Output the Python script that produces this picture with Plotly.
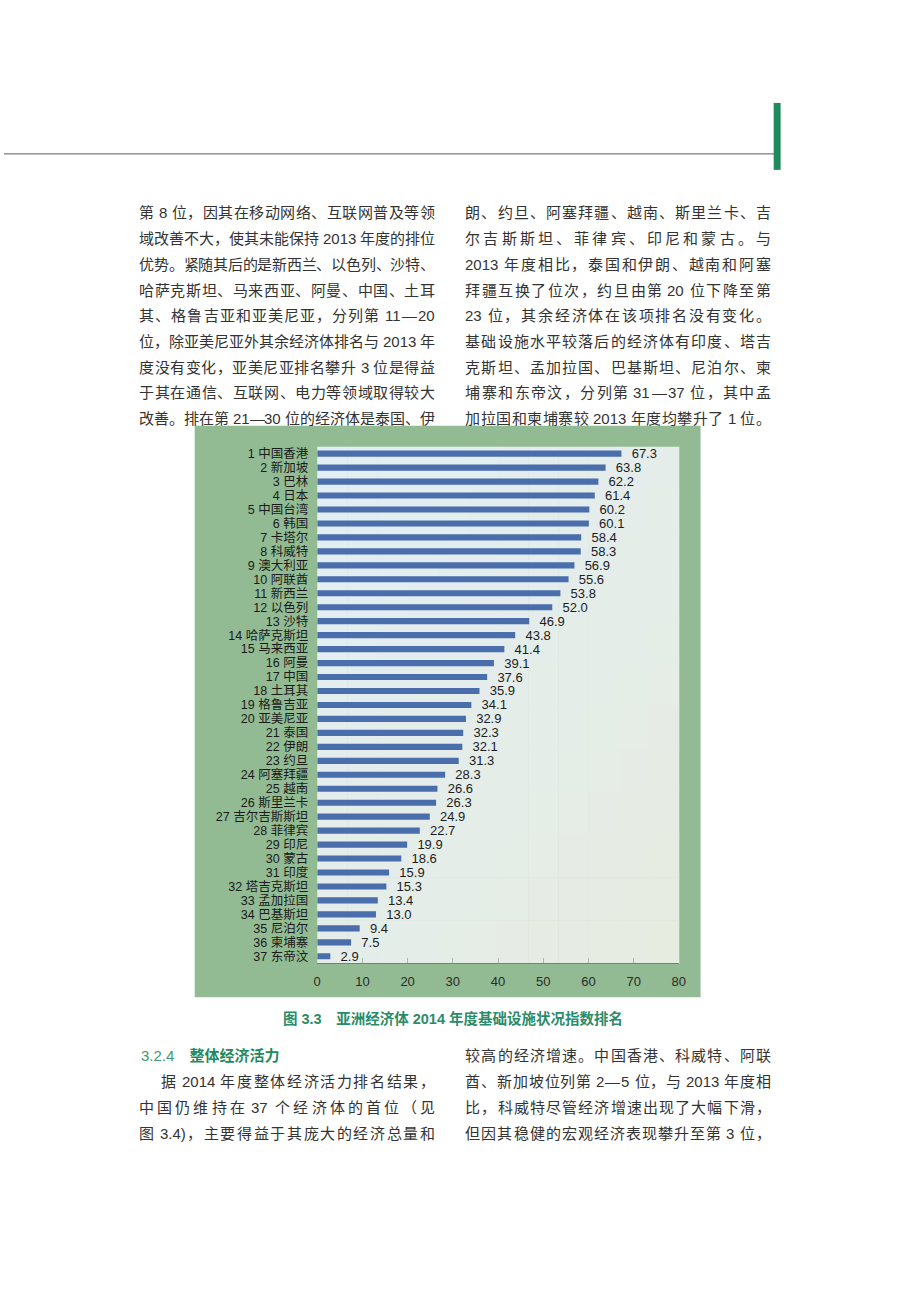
import re
import plotly.graph_objects as go

# ---------------- data ----------------
ranks = list(range(1, 38))
names = ["中国香港", "新加坡", "巴林", "日本", "中国台湾", "韩国", "卡塔尔", "科威特",
         "澳大利亚", "阿联酋", "新西兰", "以色列", "沙特", "哈萨克斯坦", "马来西亚", "阿曼",
         "中国", "土耳其", "格鲁吉亚", "亚美尼亚", "泰国", "伊朗", "约旦", "阿塞拜疆",
         "越南", "斯里兰卡", "吉尔吉斯斯坦", "菲律宾", "印尼", "蒙古", "印度", "塔吉克斯坦",
         "孟加拉国", "巴基斯坦", "尼泊尔", "柬埔寨", "东帝汶"]
values = [67.3, 63.8, 62.2, 61.4, 60.2, 60.1, 58.4, 58.3, 56.9, 55.6, 53.8, 52.0, 46.9,
          43.8, 41.4, 39.1, 37.6, 35.9, 34.1, 32.9, 32.3, 32.1, 31.3, 28.3, 26.6, 26.3,
          24.9, 22.7, 19.9, 18.6, 15.9, 15.3, 13.4, 13.0, 9.4, 7.5, 2.9]
x_ticks = [0, 10, 20, 30, 40, 50, 60, 70, 80]
labels = [f"{r} {n}" for r, n in zip(ranks, names)]

caption = "图 3.3　亚洲经济体 2014 年度基础设施状况指数排名"

top_left = [
    "第 8 位，因其在移动网络、互联网普及等领",
    "域改善不大，使其未能保持 2013 年度的排位",
    "优势。紧随其后的是新西兰、以色列、沙特、",
    "哈萨克斯坦、马来西亚、阿曼、中国、土耳",
    "其、格鲁吉亚和亚美尼亚，分列第 11—20",
    "位，除亚美尼亚外其余经济体排名与 2013 年",
    "度没有变化，亚美尼亚排名攀升 3 位是得益",
    "于其在通信、互联网、电力等领域取得较大",
    "改善。排在第 21—30 位的经济体是泰国、伊",
]
top_right = [
    "朗、约旦、阿塞拜疆、越南、斯里兰卡、吉",
    "尔吉斯斯坦、菲律宾、印尼和蒙古。与",
    "2013 年度相比，泰国和伊朗、越南和阿塞",
    "拜疆互换了位次，约旦由第 20 位下降至第",
    "23 位，其余经济体在该项排名没有变化。",
    "基础设施水平较落后的经济体有印度、塔吉",
    "克斯坦、孟加拉国、巴基斯坦、尼泊尔、柬",
    "埔寨和东帝汶，分列第 31—37 位，其中孟",
    "加拉国和柬埔寨较 2013 年度均攀升了 1 位。",
]
bottom_left = [
    "中国仍维持在 37 个经济体的首位（见",
    "图 3.4)，主要得益于其庞大的经济总量和",
]
bottom_left_first = "据 2014 年度整体经济活力排名结果，"
bottom_right = [
    "较高的经济增速。中国香港、科威特、阿联",
    "酋、新加坡位列第 2—5 位，与 2013 年度相",
    "比，科威特尽管经济增速出现了大幅下滑，",
    "但因其稳健的宏观经济表现攀升至第 3 位，",
]

# ---------------- page geometry ----------------
W, H = 920, 1302
def px(x):
    return x / W
def py(y):
    return 1 - y / H

PLOT_L, PLOT_R, PLOT_T, PLOT_B = 317, 683, 446, 963
FRAME = (193, 425, 705, 997)

fig = go.Figure()
fig.add_trace(go.Bar(
    y=labels, x=values, orientation="h", width=0.44,
    marker=dict(color="#4a6dac", line=dict(width=0)),
    texttemplate="\u00a0\u00a0%{x:.1f}", textposition="outside", cliponaxis=False,
    constraintext="none",
    textfont=dict(size=13, color="#1c1c1c", family="Liberation Sans, Arial, sans-serif"),
    hoverinfo="skip",
))

shapes = []
# green frame
shapes.append(dict(type="rect", xref="paper", yref="paper", layer="below",
                   x0=px(FRAME[0]), x1=px(FRAME[2]), y0=py(FRAME[3]), y1=py(FRAME[1]),
                   fillcolor="#93bb93", line=dict(width=0)))
# plot area soft gradient
nx, ny = 12, 12
tl = (226, 238, 243)
br = (231, 236, 225)
for i in range(nx):
    for j in range(ny):
        t = (i / (nx - 1) + j / (ny - 1)) / 2
        c = tuple(round(a + (b - a) * t) for a, b in zip(tl, br))
        x0 = PLOT_L + (PLOT_R - PLOT_L) * i / nx
        x1 = PLOT_L + (PLOT_R - PLOT_L) * (i + 1) / nx
        y0 = PLOT_T + (PLOT_B - PLOT_T) * j / ny
        y1 = PLOT_T + (PLOT_B - PLOT_T) * (j + 1) / ny
        shapes.append(dict(type="rect", xref="paper", yref="paper", layer="below",
                           x0=px(x0), x1=px(x1) + 0.0005, y0=py(y1) - 0.0004, y1=py(y0),
                           fillcolor="rgb(%d,%d,%d)" % c, line=dict(width=0)))
# header rule and green tab
shapes.append(dict(type="line", xref="paper", yref="paper",
                   x0=0, x1=px(780), y0=py(153), y1=py(153),
                   line=dict(color="#5a5a5a", width=1)))
shapes.append(dict(type="rect", xref="paper", yref="paper",
                   x0=px(779), x1=px(786), y0=py(169), y1=py(102),
                   fillcolor="#1f8a5e", line=dict(width=0)))

# ---------------- body text (justified) ----------------
annotations = []
BODY_FONT = "Liberation Sans, Noto Sans CJK SC, sans-serif"
ASCII_W = {".": 0.278, "(": 0.333, ")": 0.333}

def tok_width(tok, fs):
    if re.fullmatch(r"[0-9A-Za-z.()]+", tok):
        return sum(ASCII_W.get(ch, 0.556) for ch in tok) * fs
    return fs

def add_line(text, x0, x1, y, fs=15, color="#333333", justify=True):
    parts = re.findall(r"[0-9A-Za-z.()]+|\s+|[^\s0-9A-Za-z.()]", text)
    toks, gaps = [], []
    pending = 0.0
    for p in parts:
        if p.isspace():
            pending += 0.27 * fs * len(p)
            continue
        if toks:
            gaps.append(pending)
        pending = 0.0
        toks.append(p)
    widths = [tok_width(t, fs) for t in toks]
    natural = sum(widths) + sum(gaps)
    extra = (x1 - x0 - natural) / max(len(gaps), 1) if justify else 0.0
    x = x0
    for k, (t, w) in enumerate(zip(toks, widths)):
        annotations.append(dict(xref="paper", yref="paper", x=px(x + w / 2), y=py(y),
                                xanchor="center", yanchor="middle", showarrow=False,
                                text=t, font=dict(size=fs, color=color, family=BODY_FONT)))
        if k < len(gaps):
            x += w + gaps[k] + extra

LX0, LX1 = 137, 436
RX0, RX1 = 467, 776
top_y = [212 + 25.75 * i for i in range(9)]
for i, line in enumerate(top_left):
    add_line(line, LX0, LX1, top_y[i])
for i, line in enumerate(top_right):
    add_line(line, RX0, RX1, top_y[i])

bot_y = [1055 + 26 * i for i in range(4)]
annotations.append(dict(xref="paper", yref="paper", x=px(LX0), y=py(bot_y[0]),
                        xanchor="left", yanchor="middle", showarrow=False,
                        text="<span style='color:#3f9a72'>3.2.4</span>　<b>整体经济活力</b>",
                        font=dict(size=15, color="#1f8a5e", family=BODY_FONT)))
add_line(bottom_left_first, LX0 + 22, LX1, bot_y[1])
for i, line in enumerate(bottom_left):
    add_line(line, LX0, LX1, bot_y[2 + i])
for i, line in enumerate(bottom_right):
    add_line(line, RX0, RX1, bot_y[i])

# caption
annotations.append(dict(xref="paper", yref="paper", x=px(454), y=py(1018),
                        xanchor="center", yanchor="middle", showarrow=False,
                        text="<b>" + caption + "</b>",
                        font=dict(size=14.5, color="#2a8c68", family=BODY_FONT)))

fig.update_layout(
    width=W, height=H, margin=dict(l=0, r=0, t=0, b=0),
    paper_bgcolor="white", plot_bgcolor="rgba(0,0,0,0)",
    showlegend=False, bargap=0.56,
    shapes=shapes, annotations=annotations,
    xaxis=dict(domain=[px(PLOT_L), px(PLOT_R)], range=[0, 80], tickvals=x_ticks,
               ticks="inside", ticklen=5, tickcolor="#aab8aa", tickwidth=1,
               showline=True, linecolor="#5d8f68", linewidth=1, mirror=False,
               showgrid=False, zeroline=False, ticklabelstandoff=6,
               tickfont=dict(size=13, color="#2a2a2a", family="Liberation Sans, Arial, sans-serif")),
    yaxis=dict(domain=[py(PLOT_B), py(PLOT_T)], type="category", autorange="reversed",
               tickmode="array", tickvals=labels, ticktext=labels,
               showgrid=False, zeroline=False, showline=False, ticks="",
               ticklabelstandoff=8,
               tickfont=dict(size=12.5, color="#1a1a1a",
                             family="Liberation Sans, Noto Sans CJK SC, sans-serif")),
)

fig.write_html("out.html")
